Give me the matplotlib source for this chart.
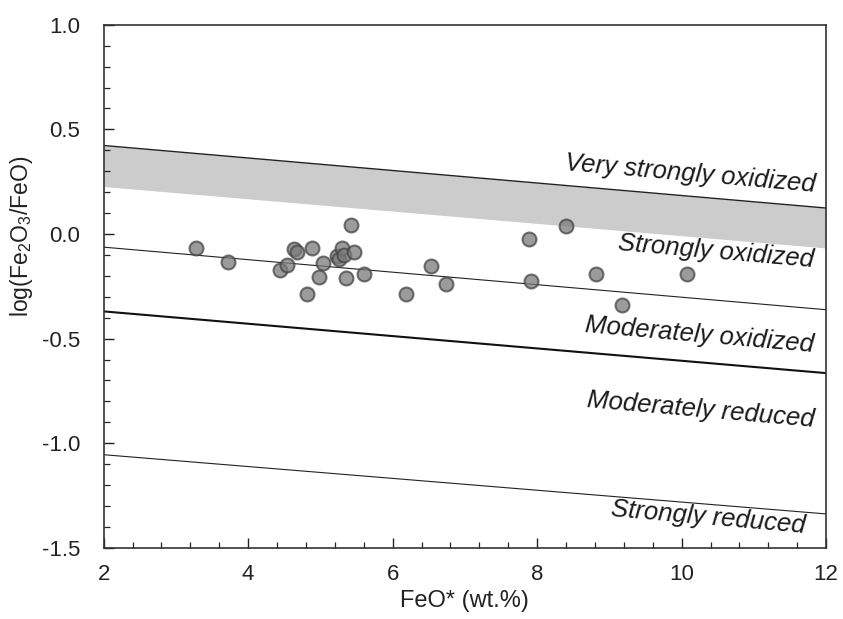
import matplotlib
matplotlib.use("Agg")
import matplotlib.pyplot as plt
import numpy as np
from matplotlib.ticker import MultipleLocator

plt.rcParams['font.family'] = ['Liberation Sans', 'DejaVu Sans']
plt.rcParams['mathtext.default'] = 'regular'

# sample data: FeO* (wt.%) vs log(Fe2O3/FeO)
feo = [3.28, 3.72, 4.44, 4.54, 4.63, 4.67, 4.88, 4.81, 4.98, 5.03,
       5.23, 5.26, 5.30, 5.33, 5.36, 5.42, 5.46, 5.61, 6.18, 6.53,
       6.74, 8.40, 7.89, 7.91, 8.81, 10.07, 9.17]
log_ratio = [-0.065, -0.133, -0.173, -0.150, -0.072, -0.085, -0.068, -0.286, -0.205, -0.141,
             -0.107, -0.120, -0.069, -0.100, -0.212, 0.044, -0.088, -0.192, -0.289, -0.155,
             -0.240, 0.036, -0.023, -0.224, -0.190, -0.190, -0.338]

# boundary lines, values at x = 2 and x = 12
line_x = [2, 12]
band_top = [0.423, 0.124]
band_bottom = [0.227, -0.067]
line_strong = [-0.063, -0.362]
line_moderate = [-0.370, -0.665]
line_reduced = [-1.055, -1.338]

zone_labels = ["Very strongly oxidized", "Strongly oxidized", "Moderately oxidized",
               "Moderately reduced", "Strongly reduced"]
label_x = [11.85, 11.82, 11.82, 11.83, 11.71]
label_y = [0.202, -0.157, -0.563, -0.922, -1.428]

fig = plt.figure(figsize=(8.43, 6.19), dpi=100)
ax = fig.add_axes([0.123, 0.115, 0.857, 0.845])

ax.fill_between(line_x, band_bottom, band_top, color='#cccccc', lw=0, zorder=1)
ax.plot(line_x, band_top, color='#222222', lw=1.0, zorder=2)
ax.plot(line_x, line_strong, color='#222222', lw=0.8, zorder=2)
ax.plot(line_x, line_moderate, color='#111111', lw=1.5, zorder=2)
ax.plot(line_x, line_reduced, color='#222222', lw=0.8, zorder=2)

ax.scatter(feo, log_ratio, s=100, facecolor='#7a7a7a', edgecolor='#444444',
           linewidths=1.5, alpha=0.75, zorder=3)

for txt, tx, ty in zip(zone_labels, label_x, label_y):
    ax.text(tx, ty, txt, fontsize=18.5, style='italic', color='#1a1a1a',
            ha='right', va='baseline', rotation=-5, rotation_mode='anchor', zorder=4)

ax.set_xlim(2, 12)
ax.set_ylim(-1.5, 1.0)
ax.xaxis.set_major_locator(MultipleLocator(2))
ax.xaxis.set_minor_locator(MultipleLocator(0.4))
ax.yaxis.set_major_locator(MultipleLocator(0.5))
ax.yaxis.set_minor_locator(MultipleLocator(0.1))
ax.yaxis.set_major_formatter(plt.FuncFormatter(lambda v, p: f"{v:.1f}"))
ax.tick_params(which='both', direction='in', labelsize=16, colors='#222222')
ax.tick_params(which='major', length=7, width=1.0)
ax.tick_params(axis='x', which='major', pad=12)
ax.tick_params(axis='y', which='major', pad=17)
ax.tick_params(which='minor', length=4, width=0.9)
for sp in ax.spines.values():
    sp.set_color('#333333')
    sp.set_linewidth(1.2)

ax.set_xlabel("FeO* (wt.%)", fontsize=17, color='#222222', labelpad=3)
ax.set_ylabel(r"log(Fe$_2$O$_3$/FeO)", fontsize=16.5, color='#222222', labelpad=10)
ax.yaxis.set_label_coords(-0.095, 0.595)

fig.savefig("out.png", dpi=100)
